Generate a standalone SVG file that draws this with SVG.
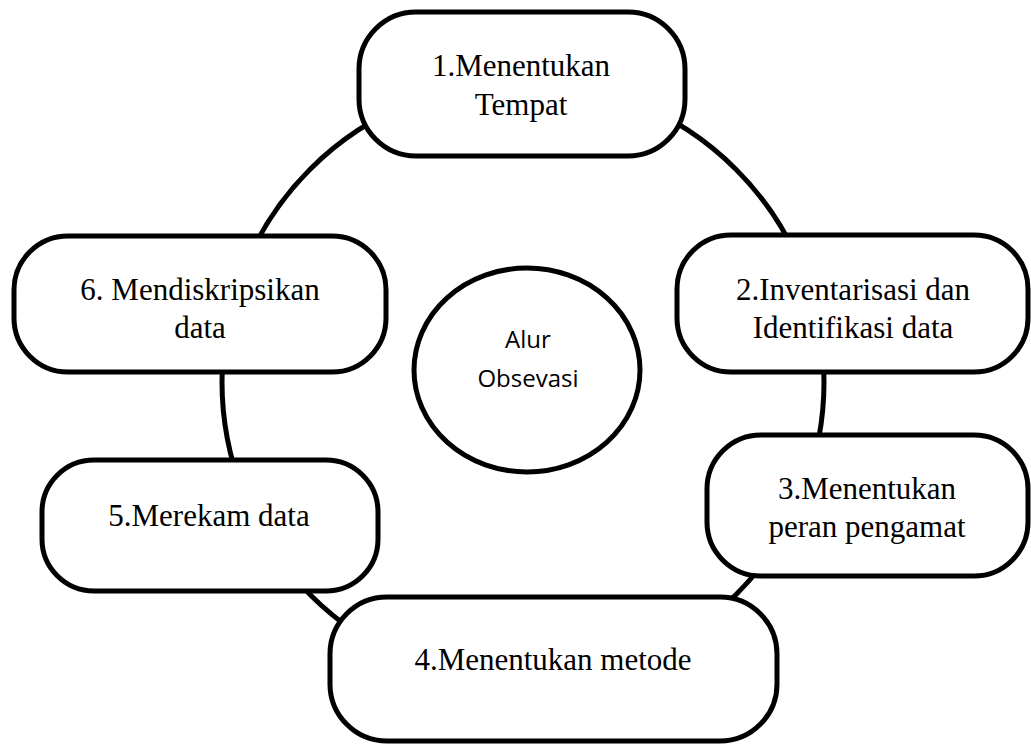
<svg xmlns="http://www.w3.org/2000/svg" width="1031" height="744" viewBox="0 0 1031 744">
<style>
.box{fill:#fff;stroke:#000;stroke-width:5}
.conn{fill:none;stroke:#000;stroke-width:5}
.t{font-family:"Liberation Serif","Times New Roman",serif;font-size:31px;fill:#000;text-anchor:middle}
.s{font-family:"Open Sans","Noto Sans","Liberation Sans",sans-serif;font-size:24px;fill:#000;text-anchor:middle}
</style>
<rect width="1031" height="744" fill="#fff"/>
<g id="connectors">
<circle class="conn" cx="523" cy="382" r="301"/>
</g>
<g id="node1">
<rect class="box" x="359" y="12" width="326" height="144" rx="57" ry="57"/>
<text class="t" x="521" y="76">1.Menentukan</text>
<text class="t" x="521" y="115">Tempat</text>
</g>
<g id="node2">
<rect class="box" x="677" y="235" width="351" height="137" rx="54" ry="54"/>
<text class="t" x="853" y="300">2.Inventarisasi dan</text>
<text class="t" x="853" y="338">Identifikasi data</text>
</g>
<g id="node3">
<rect class="box" x="707" y="435" width="321" height="141" rx="54" ry="54"/>
<text class="t" x="867" y="499">3.Menentukan</text>
<text class="t" x="867" y="537">peran pengamat</text>
</g>
<g id="node4">
<rect class="box" x="330" y="597" width="447" height="144" rx="57" ry="57"/>
<text class="t" x="553" y="670">4.Menentukan metode</text>
</g>
<g id="node5">
<rect class="box" x="42" y="460" width="336" height="131" rx="52" ry="52"/>
<text class="t" x="209" y="526">5.Merekam data</text>
</g>
<g id="node6">
<rect class="box" x="14" y="236" width="372" height="136" rx="54" ry="54"/>
<text class="t" x="200" y="300">6. Mendiskripsikan</text>
<text class="t" x="200" y="338">data</text>
</g>
<g id="center">
<ellipse class="box" cx="527" cy="370" rx="113" ry="102"/>
<text class="s" x="528" y="348">Alur</text>
<text class="s" x="528" y="387">Obsevasi</text>
</g>
</svg>
